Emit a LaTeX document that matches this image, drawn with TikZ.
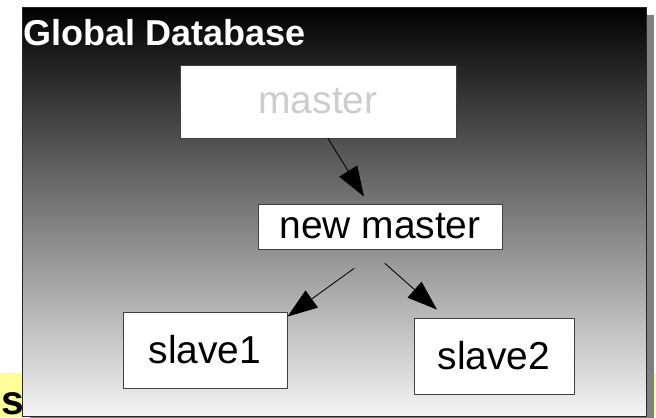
\documentclass[tikz,border=0pt]{standalone}
\usepackage{fontspec}
\setmainfont{Liberation Sans}
\usetikzlibrary{arrows.meta,calc}
\definecolor{stripyellow}{RGB}{255,255,153}

\begin{document}
\begin{tikzpicture}[line cap=round, line join=round, x=0.025cm, y=-0.025cm,
    dbnode/.style={draw=black!75, fill=white, line width=0.6pt, inner sep=0pt,
      font=\fontsize{27.7}{33}\selectfont},
    link/.style={line width=0.6pt, -{Triangle[length=0.75cm, width=0.525cm]}}]
  \useasboundingbox (0,0) rectangle (656,417);
  % strip behind the frame
  \fill[stripyellow] (0,373) rectangle (656,417);
  \node[anchor=base east, inner sep=0pt, font=\bfseries\fontsize{29}{34}\selectfont] (cut) at (24,414) {s};
  % frame with shadow
  \fill[black!50] (30,15) rectangle (654,424);
  \draw[black!85, line width=0.6pt, top color=black, bottom color=gray!8] (22,7) rectangle (646,416);
  \node[anchor=base west, inner sep=0pt, text=white, font=\bfseries\fontsize{25.6}{30}\selectfont] (title) at (23,45) {Global Database};
  % servers
  \node[dbnode, text=black!20, minimum width=6.9cm, minimum height=1.825cm] (master) at (318,101.5) {master};
  \node[dbnode, minimum width=6.1cm, minimum height=1.125cm] (newmaster) at (380,226.5) {new master};
  \foreach \name/\x/\y/\w in {slave1/205/350/4.1cm, slave2/494/356/4cm}
    \node[dbnode, minimum width=\w, minimum height=1.9cm] (\name) at (\x,\y) {\name};
  % replication
  \draw[link] ($(master.south)+(10,0)$) -- ($(newmaster.north)+(-16,-7)$);
  \draw[link] ($(newmaster.south)+(-26,19)$) -- ($(slave1.north east)+(0,5)$);
  \draw[link] ($(newmaster.south)+(5,14)$) -- ($(slave2.north)+(-57,-8)$);
\end{tikzpicture}
\end{document}
